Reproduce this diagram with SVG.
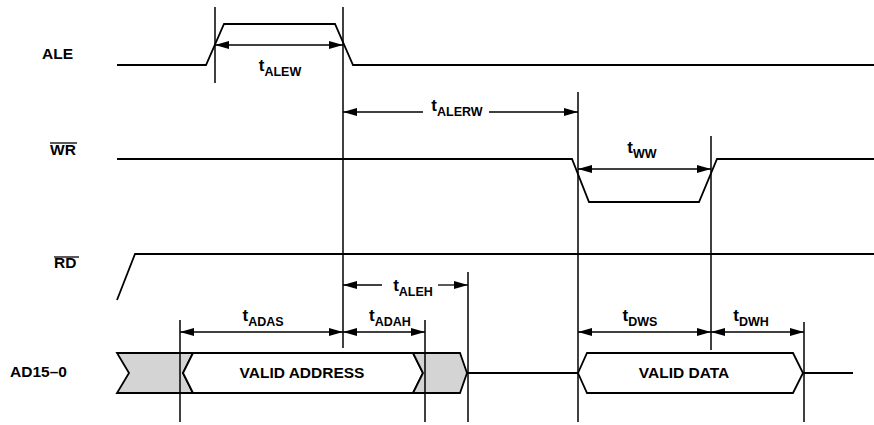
<svg xmlns="http://www.w3.org/2000/svg" width="874" height="425" viewBox="0 0 874 425">
<style>
.sig{fill:none;stroke:#000;stroke-width:1.8;stroke-linejoin:miter}
.vl{stroke:#000;stroke-width:1.5}
.dim{stroke:#000;stroke-width:1.3;fill:none}
.lbl{font-family:"Liberation Sans",Arial,sans-serif;font-weight:bold;font-size:15.5px;fill:#000}
.t{font-family:"Liberation Sans",Arial,sans-serif;font-weight:bold;fill:#000}
.bus{stroke:#000;stroke-width:1.8;stroke-linejoin:miter}
</style>
<defs>
<marker id="ah" markerUnits="userSpaceOnUse" markerWidth="14" markerHeight="8" refX="14" refY="4" orient="auto-start-reverse" viewBox="0 0 14 8">
<path d="M0,0 L14,4 L0,8 z" fill="#000"/>
</marker>
</defs>
<rect width="874" height="425" fill="#fff"/>

<g id="signal-labels">
<text class="lbl" x="42" y="59">ALE</text>
<text class="lbl" x="50" y="155">WR</text>
<line x1="50" y1="143" x2="77" y2="143" stroke="#000" stroke-width="1.3"/>
<text class="lbl" x="54" y="268">RD</text>
<line x1="54" y1="257" x2="79" y2="257" stroke="#000" stroke-width="1.3"/>
<text class="lbl" x="10" y="377">AD15–0</text>
</g>

<g id="ALE">
<polyline class="sig" points="117,65 206,65 224,24 335,24 353,65 874,65"/>
</g>
<g id="WR">
<polyline class="sig" points="117,159 572,159 589,202 699,202 717,159 874,159"/>
</g>
<g id="RD">
<polyline class="sig" points="117,300 135,254 874,254"/>
</g>
<g id="AD">
<polygon class="bus" fill="#d4d4d4" points="117,353 193,353 183,373 193,393 117,393 129,373"/>
<polygon class="bus" fill="#fff" points="193,353 413,353 423,373 413,393 193,393 183,373"/>
<polygon class="bus" fill="#d4d4d4" points="413,353 460,353 467,373 460,393 413,393 423,373"/>
<line class="bus" x1="467" y1="373" x2="578" y2="373"/>
<polygon class="bus" fill="#fff" points="587,353 793,353 803,373 793,393 587,393 578,373"/>
<line class="bus" x1="803" y1="373" x2="853" y2="373"/>
<text class="lbl" x="302" y="378" text-anchor="middle">VALID ADDRESS</text>
<text class="lbl" x="684" y="378" text-anchor="middle">VALID DATA</text>
</g>

<g id="connectors">
<line class="vl" x1="215" y1="7" x2="215" y2="83"/>
<line class="vl" x1="343" y1="7" x2="343" y2="348"/>
<line class="vl" x1="578" y1="92" x2="578" y2="422"/>
<line class="vl" x1="711" y1="136" x2="711" y2="350"/>
<line class="vl" x1="468" y1="272" x2="468" y2="422"/>
<line class="vl" x1="180" y1="320" x2="180" y2="422"/>
<line class="vl" x1="425" y1="320" x2="425" y2="422"/>
<line class="vl" x1="804" y1="322" x2="804" y2="422"/>

<line class="dim" x1="215" y1="45" x2="343" y2="45" marker-start="url(#ah)" marker-end="url(#ah)"/>
<line class="dim" x1="343" y1="112" x2="423" y2="112" marker-start="url(#ah)"/>
<line class="dim" x1="489" y1="112" x2="578" y2="112" marker-end="url(#ah)"/>
<line class="dim" x1="578" y1="169" x2="711" y2="169" marker-start="url(#ah)" marker-end="url(#ah)"/>
<line class="dim" x1="343" y1="285" x2="382" y2="285" marker-start="url(#ah)"/>
<line class="dim" x1="438" y1="285" x2="468" y2="285" marker-end="url(#ah)"/>
<line class="dim" x1="180" y1="332" x2="343" y2="332" marker-start="url(#ah)" marker-end="url(#ah)"/>
<line class="dim" x1="343" y1="332" x2="425" y2="332" marker-start="url(#ah)" marker-end="url(#ah)"/>
<line class="dim" x1="578" y1="332" x2="711" y2="332" marker-start="url(#ah)" marker-end="url(#ah)"/>
<line class="dim" x1="711" y1="332" x2="804" y2="332" marker-start="url(#ah)" marker-end="url(#ah)"/>
</g>

<g id="timing-labels">
<text class="t" x="280" y="71" text-anchor="middle"><tspan font-size="17">t</tspan><tspan font-size="12.5" dy="5">ALEW</tspan></text>
<text class="t" x="457" y="111" text-anchor="middle"><tspan font-size="17">t</tspan><tspan font-size="12.5" dy="5">ALERW</tspan></text>
<text class="t" x="642" y="153" text-anchor="middle"><tspan font-size="17">t</tspan><tspan font-size="12.5" dy="5">WW</tspan></text>
<text class="t" x="413" y="291" text-anchor="middle"><tspan font-size="17">t</tspan><tspan font-size="12.5" dy="5">ALEH</tspan></text>
<text class="t" x="263" y="321" text-anchor="middle"><tspan font-size="17">t</tspan><tspan font-size="12.5" dy="5">ADAS</tspan></text>
<text class="t" x="390" y="321" text-anchor="middle"><tspan font-size="17">t</tspan><tspan font-size="12.5" dy="5">ADAH</tspan></text>
<text class="t" x="640" y="321" text-anchor="middle"><tspan font-size="17">t</tspan><tspan font-size="12.5" dy="5">DWS</tspan></text>
<text class="t" x="751" y="321" text-anchor="middle"><tspan font-size="17">t</tspan><tspan font-size="12.5" dy="5">DWH</tspan></text>
</g>
</svg>
